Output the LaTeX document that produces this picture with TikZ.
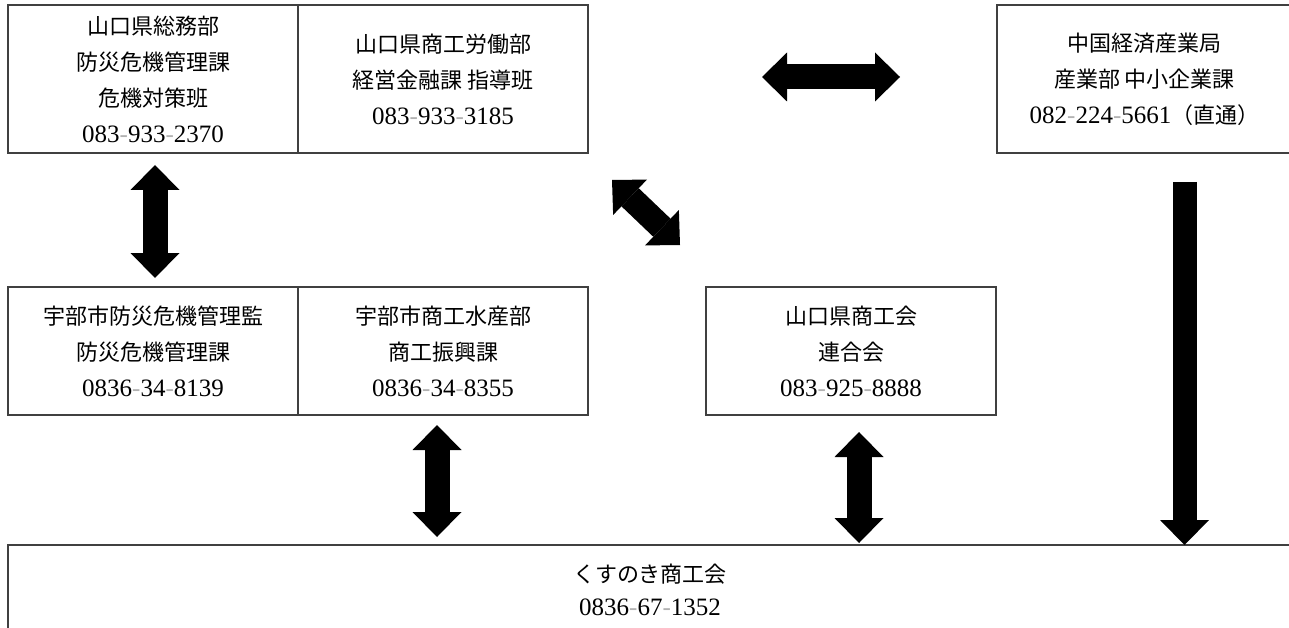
\documentclass[tikz,border=0pt]{standalone}
\usepackage{fontspec}
\newfontfamily\jp{Noto Sans CJK JP}
\newfontfamily\num{Liberation Serif}
\usetikzlibrary{arrows.meta,positioning,calc}
\newcommand{\hy}{{\color{black!30}-}}
\newcommand{\tel}[1]{{\num\fontsize{25}{36}\selectfont #1}}
\tikzset{Block/.tip={Triangle[length=25pt,width=49pt,line width=0pt]}}

\begin{document}
\begin{tikzpicture}[x=1pt,y=-1pt,
        office/.style={draw=black!75, line width=1.4pt, minimum width=290pt, minimum height=148pt,
            inner sep=0pt, outer sep=0pt, align=center, font=\jp\fontsize{22}{36}\selectfont},
        fat/.style={line width=25pt, Block-Block}]
        \useasboundingbox (0,0) rectangle (1289,628);

        % prefecture offices
        \node[office] (kenSoumu) at (153,79) {山口県総務部\\防災危機管理課\\危機対策班\\\tel{083\hy933\hy2370}};
        \node[office, right=0pt of kenSoumu] (kenShoko) {山口県商工労働部\\経営金融課 指導班\\\tel{083\hy933\hy3185}};
        \node[office, minimum width=295pt] (chugoku) at (1144.5,79) {中国経済産業局\\産業部 中小企業課\\\tel{082\hy224\hy5661}（直通）};

        % city offices
        \node[office, minimum height=128pt] (shiBousai) at (153,351) {宇部市防災危機管理監\\防災危機管理課\\\tel{0836\hy34\hy8139}};
        \node[office, minimum height=128pt, right=0pt of shiBousai] (shiShoko) {宇部市商工水産部\\商工振興課\\\tel{0836\hy34\hy8355}};
        \node[office, minimum height=128pt] (rengokai) at (851,351) {山口県商工会\\連合会\\\tel{083\hy925\hy8888}};

        \node[office, minimum width=1284pt, minimum height=89pt, font=\jp\fontsize{22}{33}\selectfont] (kusunoki) at (650,589.5) {くすのき商工会\\\tel{0836\hy67\hy1352}};

        \draw[fat] ($(kenSoumu.south)+(2,12)$) -- ($(shiBousai.north)+(2,-9)$);
        \draw[fat] ($(kenShoko.east)+(174,-2)$) -- ($(chugoku.west)+(-97,-2)$);
        \draw[fat] ($(kenShoko.south east)+(24,27)$) -- ($(rengokai.north west)+(-26,-42)$);
        \draw[fat] ($(shiShoko.south)+(-6,10)$) -- ($(shiShoko.south |- kusunoki.north)+(-6,-8)$);
        \draw[fat] ($(rengokai.south)+(8,17)$) -- ($(rengokai.south |- kusunoki.north)+(8,-2)$);
        \draw[line width=24pt, -Block] ($(chugoku.south)+(40,29)$) -- ($(chugoku.south |- kusunoki.north)+(40,0)$);
\end{tikzpicture}
\end{document}
